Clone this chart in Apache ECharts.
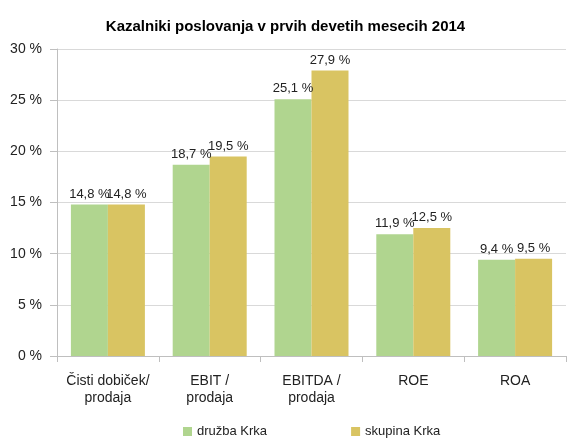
<!DOCTYPE html>
<html>
<head>
<meta charset="utf-8">
<script src="https://cdn.jsdelivr.net/npm/echarts@6/dist/echarts.min.js"></script>
<style>
  html, body { margin: 0; padding: 0; background: #fff; }
  #chart { width: 571px; height: 441px; }
</style>
</head>
<body>
<div id="chart"></div>
<script>
const categories = ['Čisti dobiček/\nprodaja', 'EBIT /\nprodaja', 'EBITDA /\nprodaja', 'ROE', 'ROA']
const druzba = [14.8, 18.7, 25.1, 11.9, 9.4]
const skupina = [14.8, 19.5, 27.9, 12.5, 9.5]
const seriesNames = ['družba Krka', 'skupina Krka']

const font = "'Liberation Sans', Arial, sans-serif"
const pct = v => v.toFixed(1).replace('.', ',') + ' %'

const chart = echarts.init(document.getElementById('chart'))
chart.setOption({
  animation: false,
  title: {
    text: 'Kazalniki poslovanja v prvih devetih mesecih 2014',
    left: 'center',
    top: 14,
    textStyle: { fontFamily: font, fontSize: 15, fontWeight: 'bold', color: '#000' }
  },
  legend: {
    top: 420,
    left: 178,
    itemWidth: 9,
    itemHeight: 9,
    itemGap: 84,
    icon: 'rect',
    textStyle: { fontFamily: font, fontSize: 13, color: '#222' },
    data: seriesNames
  },
  grid: { left: 57, right: 5, top: 49, bottom: 85 },
  xAxis: {
    type: 'category',
    data: categories,
    axisLine: { lineStyle: { color: '#bfbfbf' } },
    axisTick: { show: true, length: 6, lineStyle: { color: '#bfbfbf' } },
    axisLabel: { interval: 0, fontFamily: font, fontSize: 14, color: '#222', lineHeight: 17, margin: 17 }
  },
  yAxis: {
    type: 'value',
    min: 0,
    max: 30,
    interval: 5,
    axisLine: { show: true, lineStyle: { color: '#bfbfbf' } },
    axisTick: { show: true, length: 7, lineStyle: { color: '#bfbfbf' } },
    splitLine: { lineStyle: { color: '#d9d9d9' } },
    axisLabel: { fontFamily: font, fontSize: 14, color: '#222', margin: 15, formatter: '{value} %' }
  },
  series: [
    {
      name: seriesNames[0],
      type: 'bar',
      data: druzba,
      barWidth: 37,
      barGap: '0%',
      itemStyle: { color: '#b0d58f' },
      label: { show: true, position: 'top', distance: 4, fontFamily: font, fontSize: 13, color: '#222', formatter: p => pct(p.value) }
    },
    {
      name: seriesNames[1],
      type: 'bar',
      data: skupina,
      barWidth: 37,
      itemStyle: { color: '#d9c462' },
      label: { show: true, position: 'top', distance: 4, fontFamily: font, fontSize: 13, color: '#222', formatter: p => pct(p.value) }
    }
  ]
})
</script>
</body>
</html>
